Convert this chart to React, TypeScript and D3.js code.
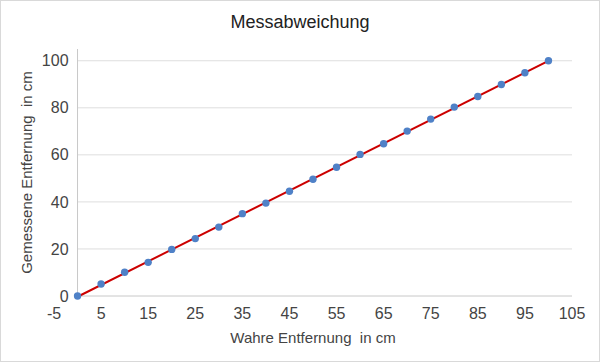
import React from 'react'
import * as d3 from 'd3'

// true distance (cm)
const trueDist = [0, 5, 10, 15, 20, 25, 30, 35, 40, 45, 50, 55, 60, 65, 70, 75, 80, 85, 90, 95, 100]
// measured distance (cm)
const measured = [0, 5.1, 10.1, 14.3, 19.8, 24.4, 29.3, 35.0, 39.5, 44.5, 49.6, 54.7, 60.2, 64.7, 70.1, 75.2, 80.3, 84.8, 89.9, 94.9, 100]
const xTicks = [-5, 5, 15, 25, 35, 45, 55, 65, 75, 85, 95, 105]
const yTicks = [0, 20, 40, 60, 80, 100]

const title = 'Messabweichung'
const xTitle = 'Wahre Entfernung  in cm'
const yTitle = 'Gemessene Entfernung  in cm'

const App = () => {
    const width = 600
    const height = 362
    const font = 'Arial, "Liberation Sans", sans-serif'

    const x = d3.scaleLinear().domain([-5, 105]).range([54, 572])
    const y = d3.scaleLinear().domain([0, 105]).range([296, 49])

    const points = trueDist.map((d, i) => [d, measured[i]] as [number, number])

    // linear trendline (least squares)
    const mx = d3.mean(trueDist) as number
    const my = d3.mean(measured) as number
    const slope = d3.sum(points, p => (p[0] - mx) * (p[1] - my)) / d3.sum(points, p => (p[0] - mx) ** 2)
    const icpt = my - slope * mx
    const x0 = d3.min(trueDist) as number
    const x1 = d3.max(trueDist) as number
    const trend = d3.line<number>()
        .x(d => x(d))
        .y(d => y(slope * d + icpt))([x0, x1])

    return (
        <svg width={width} height={height}
            style={{ position: 'absolute', left: 0, top: 0, display: 'block', background: '#fff' }}>
            <rect x={0.5} y={0.5} width={width - 1} height={height - 1} fill="#fff" stroke="#d9d9d9" />
            <text x={300} y={28} textAnchor="middle" fontFamily={font} fontSize={18} fill="#222">{title}</text>

            {yTicks.map(t => (
                <g key={t}>
                    <line x1={x(0)} x2={x(105)} y1={y(t)} y2={y(t)} stroke={t === 0 ? '#c8c8c8' : '#dedede'} strokeWidth={1} />
                    <text x={x(0) - 9} y={y(t)} dy="0.35em" textAnchor="end" fontFamily={font} fontSize={16} fill="#444">{t}</text>
                </g>
            ))}
            <line x1={x(0)} x2={x(0)} y1={y(105)} y2={y(0)} stroke="#c8c8c8" strokeWidth={1} />

            {xTicks.map(t => (
                <text key={t} x={x(t)} y={319} textAnchor="middle" fontFamily={font} fontSize={16} fill="#444">{t}</text>
            ))}

            <path d={trend ?? ''} fill="none" stroke="#cc0000" strokeWidth={2} />

            {points.map((p, i) => (
                <circle key={i} cx={x(p[0])} cy={y(p[1])} r={3.7} fill="#4f81c7" />
            ))}

            <text x={(x(-5) + x(105)) / 2} y={343} textAnchor="middle" fontFamily={font} fontSize={15} fill="#444"
                style={{ whiteSpace: 'pre' }}>{xTitle}</text>
            <text transform={`translate(${27},${(y(0) + y(105)) / 2}) rotate(-90)`} dy="0.35em" textAnchor="middle"
                fontFamily={font} fontSize={15} fill="#444" style={{ whiteSpace: 'pre' }}>{yTitle}</text>
        </svg>
    )
}

export default App
